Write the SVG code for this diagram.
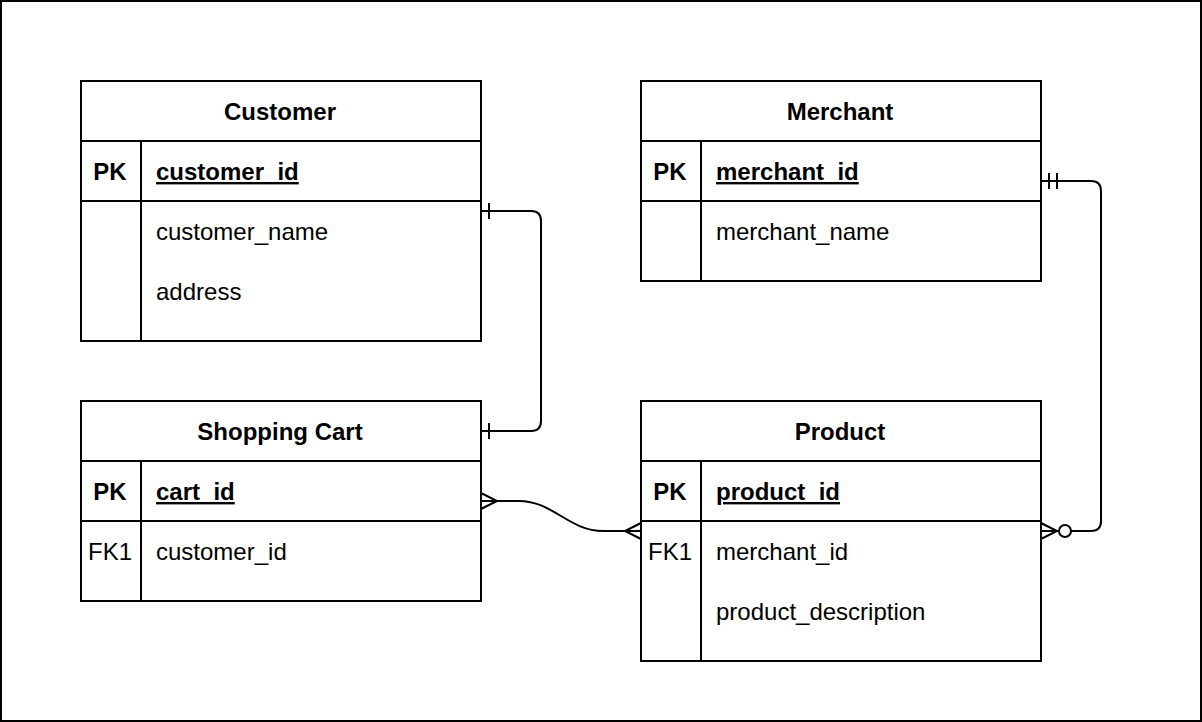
<svg xmlns="http://www.w3.org/2000/svg" width="1202" height="722" viewBox="0 0 1202 722">
<style>
.box{fill:#fff;stroke:#000;stroke-width:2}
.ln{stroke:#000;stroke-width:2;fill:none}
text{font-family:"Liberation Sans",Arial,sans-serif;font-size:24px;fill:#000}
.h{font-weight:bold;text-anchor:middle}
.k{font-weight:bold;text-anchor:middle}
.fk{text-anchor:middle}
.pk{font-weight:bold;text-decoration:underline}
.con{stroke:#000;stroke-width:2;fill:none}
</style>
<rect x="1" y="1" width="1200" height="720" fill="#fff" stroke="#000" stroke-width="2"/>

<g id="customer">
<rect class="box" x="81" y="81" width="400" height="260"/>
<line class="ln" x1="81" y1="141" x2="481" y2="141"/>
<line class="ln" x1="81" y1="201" x2="481" y2="201"/>
<line class="ln" x1="141" y1="141" x2="141" y2="341"/>
<text class="h" x="280" y="120">Customer</text>
<text class="k" x="110" y="180">PK</text>
<text class="pk" x="156" y="180">customer_id</text>
<text x="156" y="240">customer_name</text>
<text x="156" y="300">address</text>
</g>

<g id="merchant">
<rect class="box" x="641" y="81" width="400" height="200"/>
<line class="ln" x1="641" y1="141" x2="1041" y2="141"/>
<line class="ln" x1="641" y1="201" x2="1041" y2="201"/>
<line class="ln" x1="701" y1="141" x2="701" y2="281"/>
<text class="h" x="840" y="120">Merchant</text>
<text class="k" x="670" y="180">PK</text>
<text class="pk" x="716" y="180">merchant_id</text>
<text x="716" y="240">merchant_name</text>
</g>

<g id="shopping_cart">
<rect class="box" x="81" y="401" width="400" height="200"/>
<line class="ln" x1="81" y1="461" x2="481" y2="461"/>
<line class="ln" x1="81" y1="521" x2="481" y2="521"/>
<line class="ln" x1="141" y1="461" x2="141" y2="601"/>
<text class="h" x="280" y="440">Shopping Cart</text>
<text class="k" x="110" y="500">PK</text>
<text class="pk" x="156" y="500">cart_id</text>
<text class="fk" x="110" y="560">FK1</text>
<text x="156" y="560">customer_id</text>
</g>

<g id="product">
<rect class="box" x="641" y="401" width="400" height="260"/>
<line class="ln" x1="641" y1="461" x2="1041" y2="461"/>
<line class="ln" x1="641" y1="521" x2="1041" y2="521"/>
<line class="ln" x1="701" y1="461" x2="701" y2="661"/>
<text class="h" x="840" y="440">Product</text>
<text class="k" x="670" y="500">PK</text>
<text class="pk" x="716" y="500">product_id</text>
<text class="fk" x="670" y="560">FK1</text>
<text x="716" y="560">merchant_id</text>
<text x="716" y="620">product_description</text>
</g>

<g id="connectors">
<path class="con" d="M481,211 H531 Q541,211 541,221 V421 Q541,431 531,431 H481"/>
<line class="con" x1="489" y1="203" x2="489" y2="219"/>
<line class="con" x1="489" y1="423" x2="489" y2="439"/>

<path class="con" d="M481,501 H519 C553,501 569,531 603,531 H641"/>
<path class="con" d="M481,493 L497,501 L481,509"/>
<path class="con" d="M641,523 L625,531 L641,539"/>

<path class="con" d="M1041,181 H1091 Q1101,181 1101,191 V521 Q1101,531 1091,531 H1071"/>
<line class="con" x1="1049" y1="173" x2="1049" y2="189"/>
<line class="con" x1="1057" y1="173" x2="1057" y2="189"/>
<path class="con" d="M1041,523 L1057,531 L1041,539 M1041,531 H1059"/>
<circle cx="1065" cy="531" r="6" fill="#fff" stroke="#000" stroke-width="2"/>
</g>
</svg>
